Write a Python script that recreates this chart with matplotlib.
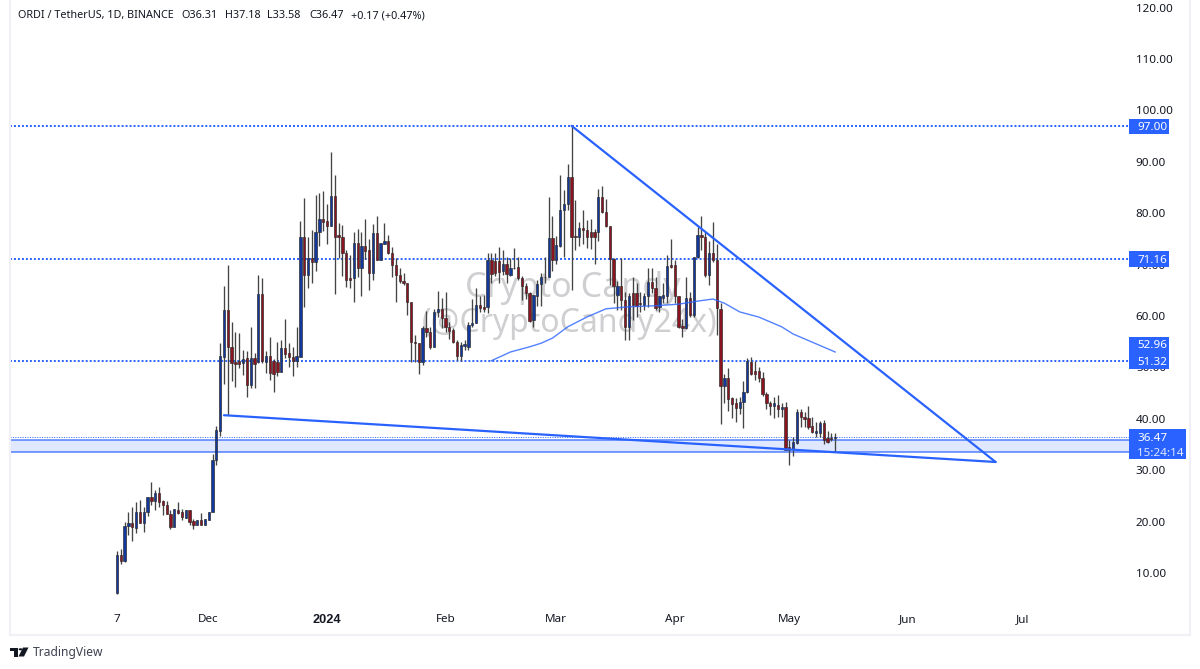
import numpy as np
import pandas as pd
import matplotlib
matplotlib.use('Agg')
import matplotlib.pyplot as plt
import matplotlib.dates as mdates
from matplotlib.patches import Rectangle, Circle, Polygon

W, H = 1200, 669

start_date = '2023-11-07'

opens = [6.1, 13.5, 12.4, 19.2, 19.8, 18.7, 21.8, 19.8, 21.9, 24.7,
         24.1, 25.6, 24.0, 23.2, 21.4, 19.0, 22.3, 21.9, 20.7, 22.2,
         20.2, 19.3, 20.3, 19.3, 20.4, 21.9, 32.0, 37.7, 52.1, 61.2,
         54.0, 51.0, 51.2, 50.8, 51.8, 46.6, 51.8, 51.1, 64.3, 51.1,
         52.2, 51.3, 51.1, 49.2, 53.7, 52.9, 52.0, 51.2, 52.1, 75.3,
         68.0, 71.2, 70.6, 76.4, 78.9, 78.4, 77.6, 83.3, 75.7, 75.3,
         72.3, 67.3, 67.3, 74.3, 69.3, 73.6, 72.8, 68.4, 76.1, 70.9,
         74.1, 74.5, 72.2, 69.9, 68.0, 66.8, 66.4, 62.7, 55.0, 54.8,
         51.1, 57.6, 56.8, 53.9, 60.8, 61.3, 59.7, 57.8, 57.3, 55.0,
         52.3, 54.2, 54.0, 58.2, 58.7, 62.1, 61.7, 61.7, 70.9, 70.7,
         70.7, 68.8, 70.2, 68.0, 69.4, 69.5, 67.3, 65.8, 64.5, 59.2,
         63.9, 66.2, 67.6, 67.5, 75.1, 70.8, 73.6, 80.6, 81.7, 87.1,
         75.5, 75.4, 77.2, 76.8, 76.4, 76.4, 76.3, 83.1, 80.3, 77.5,
         71.0, 64.1, 65.9, 63.2, 57.9, 64.5, 64.4, 62.6, 62.1, 63.8,
         66.7, 65.5, 61.7, 63.6, 63.8, 70.0, 70.0, 63.9, 58.0, 57.6,
         63.6, 60.2, 71.4, 75.7, 75.4, 68.0, 72.3, 70.9, 61.4, 46.4,
         47.9, 44.1, 43.1, 42.2, 43.2, 45.3, 51.1, 49.3, 49.3, 47.9,
         44.8, 43.1, 42.4, 42.7, 42.0, 42.3, 34.5, 34.2, 35.2, 41.3,
         40.4, 40.1, 38.6, 37.3, 37.3, 39.1, 36.3, 36.3, 36.31]
closes = [13.5, 12.4, 19.2, 19.8, 18.9, 21.8, 19.8, 21.9, 24.7, 24.1,
          25.6, 23.9, 23.2, 21.4, 19.0, 22.4, 21.7, 20.8, 22.2, 20.0,
          19.3, 20.3, 19.3, 20.6, 21.9, 32.0, 37.8, 52.2, 61.2, 53.9,
          50.8, 50.6, 50.6, 51.6, 46.6, 51.8, 50.6, 64.3, 51.3, 52.2,
          49.0, 48.8, 49.2, 53.8, 52.7, 52.0, 51.3, 52.2, 75.3, 68.0,
          71.2, 70.6, 76.4, 78.9, 78.3, 77.6, 83.3, 75.4, 75.3, 72.3,
          67.1, 67.1, 74.3, 69.4, 73.6, 72.7, 68.4, 76.1, 70.9, 74.3,
          74.5, 72.2, 69.9, 68.0, 66.8, 66.4, 62.7, 55.0, 54.8, 51.1,
          57.6, 56.8, 53.9, 60.8, 61.3, 59.7, 57.8, 57.1, 55.0, 52.3,
          54.4, 54.5, 58.2, 58.7, 62.1, 61.6, 61.3, 70.9, 68.2, 68.3,
          68.6, 70.2, 68.2, 69.3, 69.3, 67.3, 65.8, 64.4, 59.1, 64.1,
          66.2, 67.5, 67.5, 75.1, 70.8, 73.8, 80.6, 81.8, 87.1, 75.3,
          75.3, 77.2, 76.7, 75.4, 75.4, 75.4, 83.1, 80.3, 77.5, 71.0,
          65.9, 65.9, 63.1, 57.8, 63.9, 62.1, 62.0, 62.3, 63.9, 66.7,
          65.4, 61.5, 63.8, 64.1, 69.7, 69.6, 63.8, 57.9, 57.6, 63.6,
          60.2, 71.4, 75.7, 75.4, 68.0, 72.2, 70.8, 61.5, 46.4, 47.9,
          43.8, 42.9, 42.2, 43.2, 45.3, 51.3, 48.8, 48.8, 47.9, 44.8,
          43.0, 42.4, 43.0, 41.9, 42.3, 34.0, 34.0, 35.4, 41.3, 40.4,
          40.0, 38.5, 37.5, 37.7, 39.1, 35.9, 35.5, 36.1, 36.47]
highs = [14.3, 14.6, 19.9, 21.9, 22.9, 23.8, 24.3, 22.9, 24.8, 27.7,
         26.1, 26.7, 24.2, 24.0, 22.3, 22.4, 23.8, 22.5, 22.2, 22.2,
         20.6, 20.3, 21.6, 20.6, 21.9, 33.2, 38.6, 54.8, 65.8, 69.9,
         58.9, 56.9, 56.7, 53.4, 53.1, 57.9, 52.8, 67.9, 67.4, 53.2,
         56.0, 51.6, 55.0, 55.3, 59.4, 54.7, 54.0, 57.9, 78.5, 82.9,
         75.3, 76.7, 83.5, 84.0, 84.3, 81.8, 91.9, 87.4, 78.0, 77.7,
         72.8, 71.9, 76.3, 77.0, 76.4, 78.8, 74.9, 77.9, 79.5, 74.3,
         78.0, 75.8, 73.5, 71.2, 69.3, 68.3, 66.4, 62.7, 56.3, 54.8,
         58.1, 61.0, 57.9, 61.3, 64.9, 63.6, 64.7, 58.9, 57.6, 55.3,
         55.0, 55.3, 58.9, 63.4, 65.4, 63.8, 64.1, 72.3, 72.3, 72.3,
         73.5, 72.8, 71.5, 71.2, 73.2, 71.5, 67.8, 66.4, 64.7, 64.1,
         67.0, 68.3, 71.5, 83.1, 79.5, 75.5, 87.4, 84.5, 89.5, 97.0,
         82.6, 78.3, 80.6, 78.7, 78.8, 77.0, 84.8, 85.2, 82.8, 77.5,
         71.2, 66.9, 71.2, 64.7, 64.4, 67.5, 66.4, 64.7, 64.4, 69.3,
         69.3, 67.6, 63.8, 66.4, 71.9, 74.9, 70.9, 63.9, 59.5, 67.5,
         64.7, 71.4, 77.4, 79.5, 76.4, 74.5, 78.3, 74.1, 62.5, 48.8,
         49.8, 44.3, 44.0, 44.3, 47.3, 51.9, 52.1, 51.3, 50.1, 49.2,
         45.3, 43.5, 44.3, 44.6, 43.0, 43.3, 35.9, 36.4, 41.9, 41.9,
         41.4, 42.4, 40.4, 39.4, 39.6, 39.8, 37.7, 37.2, 37.18]
lows = [5.9, 11.7, 12.2, 17.4, 16.3, 17.8, 19.8, 18.0, 21.1, 23.2,
        22.3, 22.9, 21.3, 21.4, 18.6, 19.0, 21.4, 20.4, 20.7, 19.3,
        18.5, 19.3, 19.3, 19.3, 20.4, 21.9, 31.1, 36.7, 46.7, 40.7,
        47.4, 46.2, 49.9, 48.5, 44.2, 46.0, 46.0, 50.8, 50.8, 49.0,
        47.5, 45.2, 48.3, 49.2, 51.8, 50.1, 48.4, 50.0, 52.0, 61.7,
        65.5, 66.5, 68.8, 73.7, 76.6, 74.0, 77.6, 64.2, 71.2, 67.8,
        65.6, 65.4, 62.7, 67.6, 63.9, 71.0, 65.1, 67.1, 70.8, 70.8,
        74.0, 72.0, 67.5, 62.8, 66.4, 66.0, 60.2, 51.1, 51.1, 48.8,
        50.5, 56.0, 53.5, 53.9, 59.9, 57.6, 56.9, 55.5, 54.7, 51.4,
        51.3, 53.4, 53.3, 57.8, 58.6, 60.8, 60.8, 60.6, 66.4, 67.8,
        66.4, 68.0, 66.4, 67.7, 69.1, 67.0, 63.1, 63.4, 58.9, 57.8,
        61.9, 62.0, 66.4, 67.5, 68.8, 70.1, 73.5, 71.4, 80.6, 65.1,
        72.8, 73.6, 74.1, 73.2, 73.0, 70.1, 74.5, 80.1, 77.4, 66.0,
        62.5, 61.2, 61.2, 55.3, 55.3, 59.2, 59.9, 60.8, 61.2, 61.8,
        64.4, 61.2, 60.8, 62.5, 62.5, 69.3, 62.5, 57.6, 56.0, 57.4,
        59.9, 59.9, 71.2, 72.8, 67.6, 66.0, 70.6, 56.3, 39.0, 43.0,
        41.5, 40.1, 39.3, 41.0, 38.3, 45.0, 48.5, 47.5, 47.2, 44.5,
        42.0, 40.7, 40.1, 40.4, 40.4, 33.9, 31.0, 32.8, 35.1, 38.5,
        38.5, 38.1, 37.3, 36.5, 36.5, 35.1, 35.2, 35.7, 33.58]

ma_dates = ['2024-02-13', '2024-02-18', '2024-02-23', '2024-02-26', '2024-02-29',
            '2024-03-04', '2024-03-09', '2024-03-14', '2024-03-20', '2024-03-27',
            '2024-04-02', '2024-04-07', '2024-04-11', '2024-04-14', '2024-04-18',
            '2024-04-23', '2024-04-29', '2024-05-02', '2024-05-13']
ma_values = [51.3, 53.0, 54.0, 54.7, 55.7, 57.9, 59.8, 61.4, 61.8, 62.0,
             62.3, 62.9, 63.3, 62.5, 60.8, 59.8, 57.9, 56.5, 53.0]

levels = [97.00, 71.16, 51.32]
last_price = 36.47
ma_last = 52.96
band = [33.45, 35.8]

upper_trend_dates = ['2024-03-05', '2024-06-24']
upper_trend_prices = [97.0, 31.6]
lower_trend_dates = ['2023-12-05', '2024-06-24']
lower_trend_prices = [40.7, 31.6]

price_ticks = [10, 20, 30, 40, 50, 60, 70, 80, 90, 100, 110, 120]
date_ticks = ['2023-11-07', '2023-12-01', '2024-01-01', '2024-02-01', '2024-03-01',
              '2024-04-01', '2024-05-01', '2024-06-01', '2024-07-01']
date_labels = ['7', 'Dec', '2024', 'Feb', 'Mar', 'Apr', 'May', 'Jun', 'Jul']

BLUE = '#2962FF'
UP = '#12389e'
DOWN = '#8c1420'
EDGE = '#2a2a2a'
TEXT = '#131722'
BORDER = '#f0f0f6'
WATERMARK = '#cfcfd2'

plt.rcParams['font.family'] = ['Noto Sans', 'DejaVu Sans']


def px(x, y):
    # pixel position of the picture -> figure fraction
    return x / W, 1 - y / H


fig = plt.figure(figsize=(W / 100, H / 100), dpi=100, facecolor='white')
ax = fig.add_axes([10 / W, (H - 635) / H, 1180 / W, 635 / H])

dates = mdates.date2num(pd.date_range(start_date, periods=len(opens)))
opens = np.array(opens)
closes = np.array(closes)
highs = np.array(highs)
lows = np.array(lows)

px_per_day = 3.82
ax.set_xlim(dates[0] - 107 / px_per_day, dates[0] + 1073 / px_per_day)
ax.set_ylim(-2.06, 121.48)

# watermark, under the candles
ax.text(*px(573, 288), 'Crypto Candy', fontsize=24.5, color=WATERMARK, ha='center', va='center',
        transform=fig.transFigure, zorder=1)
ax.text(*px(570, 323), '(@CryptoCandy24x)', fontsize=23, color=WATERMARK, ha='center', va='center',
        transform=fig.transFigure, zorder=1)

# levels
label_frac = 1119 / 1180
for v in levels:
    ax.axhline(v, xmin=0, xmax=label_frac, color=BLUE, lw=1.4, ls=(0, (1, 1.05)), zorder=2)
ax.axhspan(band[0], band[1], xmin=0, xmax=label_frac, color=BLUE, alpha=0.14, lw=0, zorder=1.5)
for v in band:
    ax.axhline(v, xmin=0, xmax=label_frac, color=BLUE, lw=1.1, alpha=0.8, zorder=2)
ax.axhline(last_price, xmin=0, xmax=label_frac, color=BLUE, lw=0.7, ls=(0, (1, 1.5)), zorder=2)

# candles
up = closes >= opens
colors = np.where(up, UP, DOWN)
ax.vlines(dates, lows, highs, color='#444444', lw=0.95, zorder=3)
ax.bar(dates, np.abs(closes - opens), bottom=np.minimum(opens, closes), width=0.6,
       color=colors, edgecolor=EDGE, linewidth=0.45, zorder=4)

# moving average
ax.plot(mdates.date2num(pd.to_datetime(ma_dates)), ma_values, color=BLUE, lw=1.0, alpha=0.8, zorder=5)

# trend lines
ax.plot(mdates.date2num(pd.to_datetime(upper_trend_dates)), upper_trend_prices, color=BLUE, lw=1.6,
        zorder=6, solid_capstyle='round')
ax.plot(mdates.date2num(pd.to_datetime(lower_trend_dates)), lower_trend_prices, color=BLUE, lw=1.6,
        zorder=6, solid_capstyle='round')

# axes look
ax.spines['top'].set_visible(False)
for side in ['left', 'bottom', 'right']:
    ax.spines[side].set_color(BORDER)
    ax.spines[side].set_linewidth(1.5)

ax.yaxis.tick_right()
ax.set_yticks(price_ticks)
ax.set_yticklabels([f'{v:.2f}' for v in price_ticks])
ax.tick_params(axis='y', length=0, pad=-39, labelsize=8.4, labelcolor=TEXT)
ax.set_xticks(mdates.date2num(pd.to_datetime(date_ticks)))
ax.set_xticklabels(date_labels)
ax.tick_params(axis='x', length=0, pad=-15, labelsize=8.4, labelcolor=TEXT)
for lab in ax.get_xticklabels():
    if lab.get_text() == '2024':
        lab.set_family('Liberation Sans')
        lab.set_fontweight('bold')
        lab.set_fontsize(9.2)


def price_box(x0, x1, y0, y1):
    fig.add_artist(Rectangle((x0 / W, 1 - y1 / H), (x1 - x0) / W, (y1 - y0) / H, transform=fig.transFigure,
                             facecolor=BLUE, edgecolor='none', zorder=8))


def price_text(x, y, s, **kw):
    fig.text(*px(x, y), s, color='white', fontsize=8.4, va='center', ha='left', zorder=9, **kw)


# price labels on the scale
price_box(1129, 1169, 118.5, 134)
price_text(1137, 127.5, f'{levels[0]:.2f}')
price_box(1129, 1169, 251, 267)
price_text(1137, 260.5, f'{levels[1]:.2f}')
price_box(1129, 1169, 337, 369)
price_text(1137, 345.5, f'{ma_last:.2f}')
price_text(1137, 362, f'{levels[2]:.2f}')
price_box(1129, 1186, 429, 459)
price_text(1137, 438.5, f'{last_price:.2f}')
price_text(1137, 453, '15:24:14', alpha=0.85)

# header
fig.text(*px(18, 15.5), 'ORDI / TetherUS, 1D, BINANCE', fontsize=7.8, color=TEXT, va='center', ha='left')
fig.text(*px(181, 15.5), 'O36.31', fontsize=7.8, color=TEXT, va='center', ha='left')
fig.text(*px(225, 15.5), 'H37.18', fontsize=7.8, color=TEXT, va='center', ha='left')
fig.text(*px(267, 15.5), 'L33.58', fontsize=7.8, color=TEXT, va='center', ha='left')
fig.text(*px(309, 15.5), 'C36.47', fontsize=7.8, color=TEXT, va='center', ha='left')
fig.text(*px(351, 15.5), '+0.17 (+0.47%)', fontsize=7.8, color=TEXT, va='center', ha='left')

# TradingView logo + name
logo_t = Polygon([px(10, 647.5), px(18, 647.5), px(18, 656.5), px(14, 656.5), px(14, 651), px(10, 651)],
                 closed=True, transform=fig.transFigure, facecolor=TEXT, edgecolor='none')
logo_v = Polygon([px(23, 647.5), px(28.5, 647.5), px(24, 656.5), px(18.5, 656.5)],
                 closed=True, transform=fig.transFigure, facecolor=TEXT, edgecolor='none')
fig.add_artist(logo_t)
fig.add_artist(logo_v)
fig.add_artist(Circle(px(20.5, 649.3), 1.9 / W, transform=fig.transFigure, facecolor=TEXT, edgecolor='none'))
fig.text(*px(33, 652.5), 'TradingView', fontsize=8.7, color='#3d4250', va='center', ha='left')

fig.savefig('out.png', dpi=100, facecolor='white')
